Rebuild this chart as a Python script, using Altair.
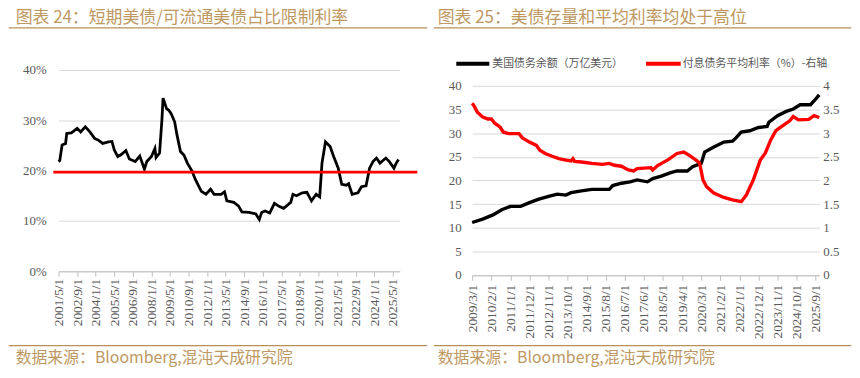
import altair as alt
import pandas as pd

# ---------------- text ----------------
left_title = "图表 24：短期美债/可流通美债占比限制利率"
right_title = "图表 25：美债存量和平均利率均处于高位"
source_note = "数据来源：Bloomberg,混沌天成研究院"
series_names = ["美国债务余额（万亿美元）", "付息债务平均利率（%）-右轴"]

# ---------------- left panel: T-bill share ----------------
share_dates = [
    "2001-05-01", "2001-06-01", "2001-08-01", "2001-11-01", "2001-12-01", "2002-04-01",
    "2002-09-01", "2002-12-01", "2003-04-01", "2003-08-01", "2003-12-01", "2004-03-01",
    "2004-07-01", "2004-12-01", "2005-03-01", "2005-05-01", "2005-08-01", "2005-11-01",
    "2006-03-01", "2006-06-01", "2006-11-01", "2007-03-01", "2007-07-01", "2007-09-01",
    "2008-01-01", "2008-04-01", "2008-05-01", "2008-08-01", "2008-10-01", "2008-11-01",
    "2009-02-01", "2009-04-01", "2009-06-01", "2009-09-01", "2009-11-01", "2010-02-01",
    "2010-05-01", "2010-08-01", "2010-12-01", "2011-03-01", "2011-08-01", "2011-12-01",
    "2012-04-01", "2012-07-01", "2013-01-01", "2013-04-01", "2013-06-01", "2013-12-01",
    "2014-04-01", "2014-07-01", "2015-01-01", "2015-07-01", "2015-10-01", "2015-12-01",
    "2016-03-01", "2016-07-01", "2016-11-01", "2017-03-01", "2017-07-01", "2018-01-01",
    "2018-03-01", "2018-06-01", "2018-11-01", "2019-03-01", "2019-07-01", "2019-11-01",
    "2020-02-01", "2020-04-01", "2020-07-01", "2020-11-01", "2021-02-01", "2021-06-01",
    "2021-09-01", "2022-01-01", "2022-03-01", "2022-06-01", "2022-11-01", "2023-02-01",
    "2023-06-01", "2023-09-01", "2023-12-01", "2024-03-01", "2024-06-01", "2024-11-01",
    "2025-02-01", "2025-06-01", "2025-08-01", "2025-10-01",
]
share_values = [
    21.8, 22.0, 25.1, 25.4, 27.4, 27.5,
    28.4, 27.7, 28.7, 27.7, 26.4, 26.1,
    25.4, 25.7, 25.8, 24.1, 22.8, 23.2,
    24.0, 22.3, 21.8, 22.9, 20.3, 21.8,
    22.8, 24.4, 22.6, 23.5, 30.0, 34.4,
    32.3, 32.0, 31.3, 29.7, 27.1, 23.8,
    23.1, 21.5, 19.9, 18.2, 15.9, 15.3,
    16.3, 15.3, 15.3, 15.8, 14.0, 13.7,
    13.0, 11.8, 11.7, 11.4, 10.3, 11.7,
    12.0, 11.6, 13.5, 12.9, 12.5, 13.7,
    15.3, 15.0, 15.6, 15.7, 14.0, 15.3,
    14.8, 21.5, 25.7, 24.8, 22.8, 20.5,
    17.3, 17.1, 17.4, 15.3, 15.6, 16.8,
    17.0, 20.5, 21.8, 22.5, 21.5, 22.5,
    21.8, 20.5, 21.5, 22.2,
]
limit_share = 19.7
share_ticks = [0, 5, 10, 15, 20, 25, 30, 35, 40]
left_tick_months = [
    (2001, 5), (2002, 9), (2004, 1), (2005, 5), (2006, 9), (2008, 1), (2009, 5),
    (2010, 9), (2012, 1), (2013, 5), (2014, 9), (2016, 1), (2017, 5), (2018, 9),
    (2020, 1), (2021, 5), (2022, 9), (2024, 1), (2025, 5),
]
left_domain = [(2001, 5), (2025, 11)]

# ---------------- right panel: debt & average rate ----------------
debt_dates = [
    "2009-03-01", "2009-09-01", "2010-03-01", "2010-08-01", "2011-01-01", "2011-07-01",
    "2011-12-01", "2012-05-01", "2012-11-01", "2013-04-01", "2013-09-01", "2013-12-01",
    "2014-06-01", "2014-12-01", "2015-06-01", "2015-10-01", "2015-12-01", "2016-05-01",
    "2016-10-01", "2017-02-01", "2017-08-01", "2017-11-01", "2018-04-01", "2018-09-01",
    "2019-01-01", "2019-07-01", "2019-10-01", "2020-03-01", "2020-05-01", "2020-10-01",
    "2021-04-01", "2021-09-01", "2021-11-01", "2022-02-01", "2022-07-01", "2022-12-01",
    "2023-05-01", "2023-06-01", "2023-11-01", "2024-04-01", "2024-08-01", "2024-12-01",
    "2025-06-01", "2025-08-01", "2025-11-01",
]
debt_values = [
    11.1, 11.8, 12.7, 13.8, 14.5, 14.5,
    15.3, 16.0, 16.6, 17.1, 16.9, 17.4,
    17.8, 18.1, 18.1, 18.1, 18.9, 19.4,
    19.7, 20.1, 19.7, 20.4, 20.9, 21.6,
    22.0, 22.0, 22.9, 23.6, 26.0, 27.0,
    28.1, 28.3, 29.0, 30.2, 30.5, 31.2,
    31.4, 32.3, 33.7, 34.6, 35.1, 36.0,
    36.0, 36.8, 38.1,
]
rate_dates = [
    "2009-03-01", "2009-04-01", "2009-06-01", "2009-09-01", "2009-12-01", "2010-02-01",
    "2010-04-01", "2010-07-01", "2010-09-01", "2010-12-01", "2011-06-01", "2011-08-01",
    "2011-12-01", "2012-04-01", "2012-06-01", "2012-09-01", "2013-01-01", "2013-05-01",
    "2013-09-01", "2013-12-01", "2014-01-01", "2014-02-01", "2014-06-01", "2014-12-01",
    "2015-06-01", "2015-10-01", "2016-01-01", "2016-05-01", "2016-09-01", "2016-12-01",
    "2017-02-01", "2017-10-01", "2017-11-01", "2018-02-01", "2018-08-01", "2019-01-01",
    "2019-05-01", "2019-09-01", "2019-12-01", "2020-02-01", "2020-04-01", "2020-06-01",
    "2020-10-01", "2021-04-01", "2021-09-01", "2022-02-01", "2022-05-01", "2022-09-01",
    "2023-01-01", "2023-04-01", "2023-07-01", "2023-10-01", "2024-02-01", "2024-06-01",
    "2024-08-01", "2024-11-01", "2025-05-01", "2025-08-01", "2025-11-01",
]
rate_values = [
    3.63, 3.58, 3.44, 3.34, 3.30, 3.30,
    3.21, 3.13, 3.02, 2.99, 2.99, 2.90,
    2.81, 2.74, 2.64, 2.57, 2.51, 2.46,
    2.43, 2.41, 2.46, 2.40, 2.39, 2.36,
    2.34, 2.36, 2.32, 2.30, 2.22, 2.20,
    2.25, 2.27, 2.22, 2.32, 2.44, 2.57,
    2.60, 2.51, 2.43, 2.37, 2.01, 1.87,
    1.74, 1.64, 1.59, 1.55, 1.69, 2.01,
    2.43, 2.58, 2.85, 3.05, 3.16, 3.26,
    3.35, 3.28, 3.29, 3.37, 3.33,
]
debt_ticks = [0, 5, 10, 15, 20, 25, 30, 35, 40]
rate_ticks = [0, 0.5, 1, 1.5, 2, 2.5, 3, 3.5, 4]
right_tick_months = [
    (2009, 3), (2010, 2), (2011, 1), (2011, 12), (2012, 11), (2013, 10), (2014, 9),
    (2015, 8), (2016, 7), (2017, 6), (2018, 5), (2019, 4), (2020, 3), (2021, 2),
    (2022, 1), (2022, 12), (2023, 11), (2024, 10), (2025, 9),
]
right_domain = [(2009, 3), (2025, 11)]

# ---------------- styling ----------------
GOLD = "#BE9862"
GOLD_RULE = "#B89158"
LABEL = "#595959"
GRID = "#D9D9D9"
AXIS = "#BFBFBF"
CJK = "Noto Sans CJK SC"
SERIF = "Liberation Serif"


def dt(ym):
    return alt.DateTime(year=ym[0], month=ym[1], date=1, utc=True)


def one(**kw):
    return pd.DataFrame({k: [v] for k, v in kw.items()})


def x_axis(ticks, pad):
    return alt.Axis(
        values=[dt(t) for t in ticks], format="%Y/%-m/%-d", labelAngle=270,
        labelFont=SERIF, labelFontSize=13.5, labelColor=LABEL, labelPadding=pad,
        labelOverlap=False, labelFlush=False, grid=False, domainColor=AXIS,
        tickColor=AXIS, tickSize=5, title=None,
    )


def decorations(title, tx, ty, rule_top, rule_bot, rx1, rx2, sy):
    t = alt.Chart(one(t=title)).mark_text(
        align="left", baseline="alphabetic", font=CJK, fontSize=17, color=GOLD
    ).encode(x=alt.value(tx), y=alt.value(ty), text="t:N")
    r1 = alt.Chart(one(a=1)).mark_rule(color=GOLD_RULE, strokeWidth=1.3).encode(
        x=alt.value(rx1), x2=alt.value(rx2), y=alt.value(rule_top))
    r2 = alt.Chart(one(a=1)).mark_rule(color=GOLD_RULE, strokeWidth=1.3).encode(
        x=alt.value(rx1), x2=alt.value(rx2), y=alt.value(rule_bot))
    s = alt.Chart(one(t=source_note)).mark_text(
        align="left", baseline="alphabetic", font=CJK, fontSize=16, color=GOLD
    ).encode(x=alt.value(tx), y=alt.value(sy), text="t:N")
    return [t, r1, r2, s]


# Both plot areas start at the same top (page y 69); the right panel's
# value range starts 16 px lower through its scale range.
TITLE_Y, RULE_TOP, RULE_BOT, SRC_Y = -47, -42.5, 278, 295

# ---------------- left chart ----------------
LW, LH = 344, 203
left_df = pd.DataFrame({"date": share_dates, "share": [v / 100 for v in share_values]})
lx = alt.X("date:T", scale=alt.Scale(type="utc", domain=[dt(d) for d in left_domain], nice=False),
           axis=x_axis(left_tick_months, 2))
share_line = alt.Chart(left_df).mark_line(color="black", strokeWidth=2.8).encode(
    x=lx,
    y=alt.Y("share:Q", scale=alt.Scale(domain=[0, 0.4], nice=False),
            axis=alt.Axis(values=[v / 100 for v in share_ticks], format=".0%", grid=True,
                          gridColor=GRID, domain=False, ticks=False, labelPadding=12.5,
                          labelFont=SERIF, labelFontSize=13, labelColor=LABEL, title=None)),
)
limit_rule = alt.Chart(one(v=limit_share / 100)).mark_rule(color="#FF0000", strokeWidth=2.6).encode(
    y="v:Q", x=alt.value(-5.3), x2=alt.value(361.7))

left = alt.layer(
    share_line, limit_rule,
    *decorations(left_title, -43.3, TITLE_Y, RULE_TOP, RULE_BOT, -50.3, 371.7, SRC_Y),
).properties(width=LW, height=LH)

# ---------------- right chart ----------------
RW, RH = 350, 207
R_RANGE = [206.7, 16]
debt_df = pd.DataFrame({"date": debt_dates, "debt": debt_values})
rate_df = pd.DataFrame({"date": rate_dates, "rate": rate_values})
rx = alt.X("date:T", scale=alt.Scale(type="utc", domain=[dt(d) for d in right_domain], nice=False),
           axis=x_axis(right_tick_months, 4))
debt_line = alt.Chart(debt_df).mark_line(color="black", strokeWidth=3.4).encode(
    x=rx,
    y=alt.Y("debt:Q", scale=alt.Scale(domain=[0, 40], range=R_RANGE, nice=False),
            axis=alt.Axis(values=debt_ticks, grid=True, gridColor=GRID, domain=False, ticks=False,
                          labelPadding=11, labelFont=SERIF, labelFontSize=13, labelColor=LABEL,
                          title=None)),
)
rate_line = alt.Chart(rate_df).mark_line(color="#FF0000", strokeWidth=3.4).encode(
    x=rx,
    y=alt.Y("rate:Q", scale=alt.Scale(domain=[0, 4], range=R_RANGE, nice=False),
            axis=alt.Axis(orient="right", values=rate_ticks, format="~g", grid=False, domain=False,
                          ticks=False, labelPadding=3.5, labelFont=SERIF, labelFontSize=13,
                          labelColor=LABEL, title=None)),
)

leg_y = -6.3
leg_sym1 = alt.Chart(one(a=1)).mark_rule(color="black", strokeWidth=4).encode(
    x=alt.value(-16), x2=alt.value(17.3), y=alt.value(leg_y))
leg_txt1 = alt.Chart(one(t=series_names[0])).mark_text(
    align="left", baseline="middle", font=CJK, fontSize=11, color=LABEL
).encode(x=alt.value(20.3), y=alt.value(leg_y), text="t:N")
leg_sym2 = alt.Chart(one(a=1)).mark_rule(color="#FF0000", strokeWidth=4).encode(
    x=alt.value(175.3), x2=alt.value(210.3), y=alt.value(leg_y))
leg_txt2 = alt.Chart(one(t=series_names[1])).mark_text(
    align="left", baseline="middle", font=CJK, fontSize=11, color=LABEL
).encode(x=alt.value(212.3), y=alt.value(leg_y), text="t:N")

right = alt.layer(
    debt_line, rate_line, leg_sym1, leg_txt1, leg_sym2, leg_txt2,
    *decorations(right_title, -34.7, TITLE_Y, RULE_TOP, RULE_BOT, -38.7, 382.3, SRC_Y),
).resolve_scale(y="independent").properties(width=RW, height=RH)

chart = alt.hconcat(left, right, spacing=4).properties(
    padding={"left": 0, "right": 0, "top": 0, "bottom": 0}, background="white"
).configure_view(stroke=None)

chart.save("out.html", embed_options={"renderer": "svg", "actions": False})
